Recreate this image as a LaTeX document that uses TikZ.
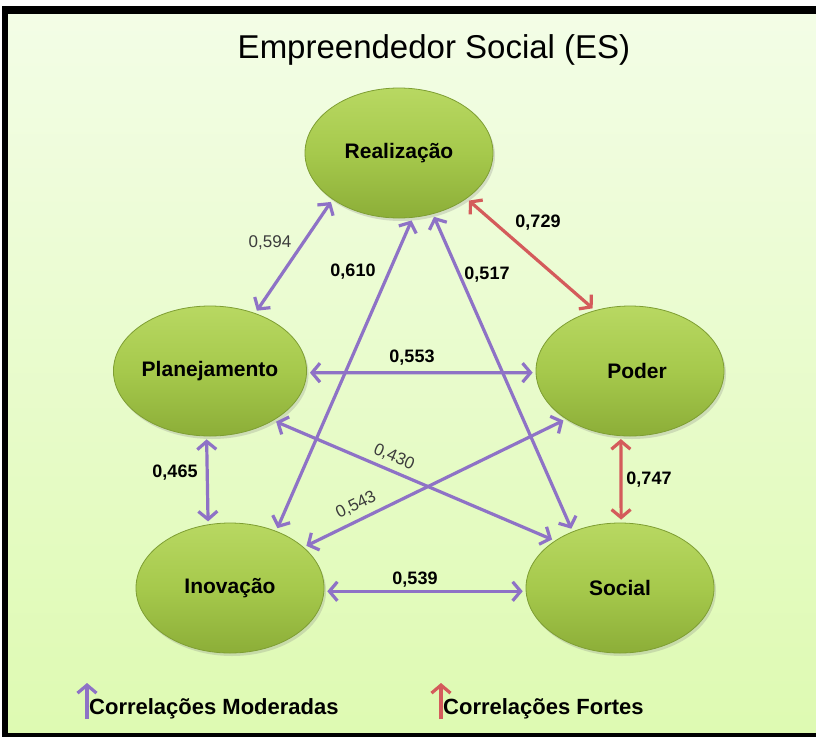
\documentclass[tikz,border=0pt]{standalone}
\usepackage{fontspec}
\setmainfont{Liberation Sans}
\usetikzlibrary{arrows.meta,shadows,shapes.geometric}
\definecolor{bgtop}{HTML}{F3FDE6}
\definecolor{bgbot}{HTML}{DEFAB2}
\definecolor{purp}{HTML}{8E72C6}
\definecolor{redc}{HTML}{D45B5B}
\definecolor{elltop}{HTML}{B8D862}
\definecolor{ellmid}{HTML}{A6C94C}
\definecolor{ellbot}{HTML}{8CAE38}
\definecolor{ellline}{HTML}{7E9E33}
\definecolor{lblgray}{HTML}{3C3C3C}
\begin{document}
\begin{tikzpicture}[x=1pt,y=-1pt,
  ell/.style={ellipse, minimum width=188pt, minimum height=130pt, inner sep=0pt,
    top color=elltop, bottom color=ellbot, middle color=ellmid, draw=ellline, line width=0.8pt,
    drop shadow={opacity=0.25, shadow xshift=2pt, shadow yshift=-3pt},
    font=\fontsize{21}{24}\selectfont\bfseries},
  conn/.style={line width=3.2pt, shorten >=3pt, shorten <=3pt,
    {Straight Barb[length=8pt,width=19pt]}-{Straight Barb[length=8pt,width=19pt]}},
  mod/.style={conn, draw=purp},
  strong/.style={conn, draw=redc},
  bnum/.style={font=\fontsize{18}{20}\selectfont\bfseries, text=black, inner sep=0pt},
  rnum/.style={font=\fontsize{17}{20}\selectfont, text=lblgray, inner sep=0pt},
  legtext/.style={font=\fontsize{22}{24}\selectfont\bfseries, anchor=west, inner sep=0pt},
  legarrow/.style={line width=3.2pt, -{Straight Barb[length=8pt,width=19pt]}}
]
\useasboundingbox (0,0) rectangle (816,737);
\fill[white] (0,0) rectangle (816,737);
\fill[black] (2,6) rectangle (816,737);
\shade[top color=bgtop, bottom color=bgbot] (8,14) rectangle (816,732);

\node[font=\fontsize{33}{36}\selectfont] (title) at (434,50) {Empreendedor Social (ES)};

\node[ell] (R) at (399,153) {Realização};
\node[ell] (P) at (210,371) {Planejamento};
\node[ell] (Po) at (630,371) {\hspace*{14pt}Poder};
\node[ell] (I) at (230,588) {Inovação};
\node[ell] (S) at (620,588) {Social};

\draw[mod] (P.52) -- (R.215);
\draw[mod] (I.51) -- (R.282);
\draw[mod] (S.130) -- (R.299);
\draw[strong] (R.326) -- (Po.120);
\draw[mod] (P.-1) -- (Po.181);
\draw[mod] (P.322) -- (S.144);
\draw[mod] (I.29) -- (Po.217);
\draw[mod] (P.267) -- (I.109);
\draw[strong] (Po.262) -- (S.89);
\draw[mod] (I.-2) -- (S.182);

\node[rnum] (l594) at (270,243) {0,594};
\node[bnum] (l610) at (353,272) {0,610};
\node[bnum] (l517) at (487,275) {0,517};
\node[bnum] (l729) at (538,223) {0,729};
\node[bnum] (l553) at (412,358) {0,553};
\node[rnum, rotate=-23] (l430) at (394,457) {0,430};
\node[rnum, rotate=26] (l543) at (356,505) {0,543};
\node[bnum] (l465) at (175,473) {0,465};
\node[bnum] (l747) at (649,480) {0,747};
\node[bnum] (l539) at (415,580) {0,539};

\coordinate (m1) at (87,719);
\coordinate (m2) at (87,683);
\draw[legarrow, draw=purp] (m1) -- (m2);
\node[legtext] (lm) at (89,709) {Correlações Moderadas};
\coordinate (f1) at (441,719);
\coordinate (f2) at (441,683);
\draw[legarrow, draw=redc] (f1) -- (f2);
\node[legtext] (lf) at (443,709) {Correlações Fortes};
\end{tikzpicture}
\end{document}
